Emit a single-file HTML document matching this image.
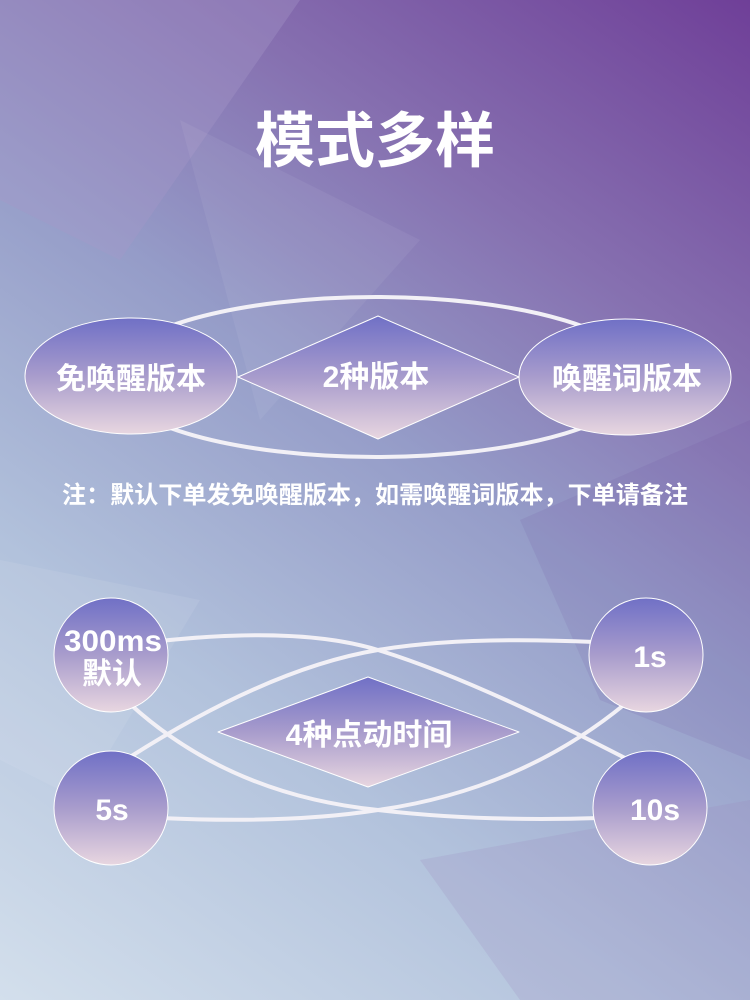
<!DOCTYPE html>
<html><head><meta charset="utf-8"><style>
html,body{margin:0;padding:0}
body{width:750px;height:1000px;overflow:hidden;position:relative;font-family:"Liberation Sans","Noto Sans CJK SC",sans-serif;
background:linear-gradient(35deg,#d3dfec 0%,#b2c2dc 30%,#959cc8 55%,#8670b0 75%,#6f3f98 100%);}
svg{position:absolute;left:0;top:0}
</style></head><body>
<svg width="750" height="1000" viewBox="0 0 750 1000">
<defs>
<linearGradient id="g" x1="0" y1="0" x2="0" y2="1">
<stop offset="0" stop-color="#7070c6"/><stop offset="0.5" stop-color="#a89ccc"/><stop offset="1" stop-color="#e8d6e0"/>
</linearGradient>
</defs>
<polygon points="0,0 300,0 120,260 0,200" fill="#a799c8" opacity="0.35"/>
<polygon points="180,120 420,240 260,420" fill="#ffffff" opacity="0.06"/>
<polygon points="520,520 750,420 750,760 600,700" fill="#6a4a9e" opacity="0.12"/>
<polygon points="0,560 200,600 80,800 0,760" fill="#ffffff" opacity="0.08"/>
<polygon points="420,860 750,800 750,1000 520,1000" fill="#9a88c0" opacity="0.2"/>
<text x="375" y="162" text-anchor="middle" font-size="60" font-weight="bold" fill="#fff">模式多样</text>
<ellipse cx="376" cy="377" rx="267" ry="80" fill="none" stroke="#f2f0f6" stroke-width="4"/>
<ellipse cx="131" cy="376" rx="106" ry="58" fill="url(#g)" stroke="#fff" stroke-width="1"/>
<ellipse cx="625" cy="377" rx="106" ry="58" fill="url(#g)" stroke="#fff" stroke-width="1"/>
<polygon points="238,377 378,316 519,377 378,439" fill="url(#g)" stroke="#fff" stroke-width="1" stroke-linejoin="round"/>
<g font-size="30" font-weight="bold" fill="#fff" text-anchor="middle">
<text x="131" y="389">免唤醒版本</text>
<text x="376" y="387">2种版本</text>
<text x="627" y="389">唤醒词版本</text>
</g>
<text x="375" y="503" text-anchor="middle" font-size="24" font-weight="bold" fill="#fff" textLength="626" lengthAdjust="spacingAndGlyphs">注：默认下单发免唤醒版本，如需唤醒词版本，下单请备注</text>
<g fill="none" stroke="#f2f0f6" stroke-width="4" stroke-linecap="round">
<path d="M160,641 Q300,626 378,650 Q470,678 625,758"/>
<path d="M130,704 Q230,795 378,810 Q480,822 600,818"/>
<path d="M130,757 Q270,668 378,650 Q460,636 595,642"/>
<path d="M160,818 Q290,824 378,810 Q520,790 625,704"/>
</g>
<polygon points="218,732 368,677 519,732 368,787" fill="url(#g)" stroke="#fff" stroke-width="1" stroke-linejoin="round"/>
<g stroke="#fff" stroke-width="1" fill="url(#g)">
<circle cx="111" cy="655" r="57"/>
<circle cx="646" cy="655" r="57"/>
<circle cx="111" cy="808" r="57"/>
<circle cx="650" cy="808" r="57"/>
</g>
<g font-size="30" font-weight="bold" fill="#fff" text-anchor="middle">
<text x="113" y="651" font-size="30" textLength="98" lengthAdjust="spacingAndGlyphs">300ms</text>
<text x="112" y="684">默认</text>
<text x="650" y="667">1s</text>
<text x="112" y="820">5s</text>
<text x="655" y="820">10s</text>
<text x="369" y="745">4种点动时间</text>
</g>
</svg>
</body></html>
